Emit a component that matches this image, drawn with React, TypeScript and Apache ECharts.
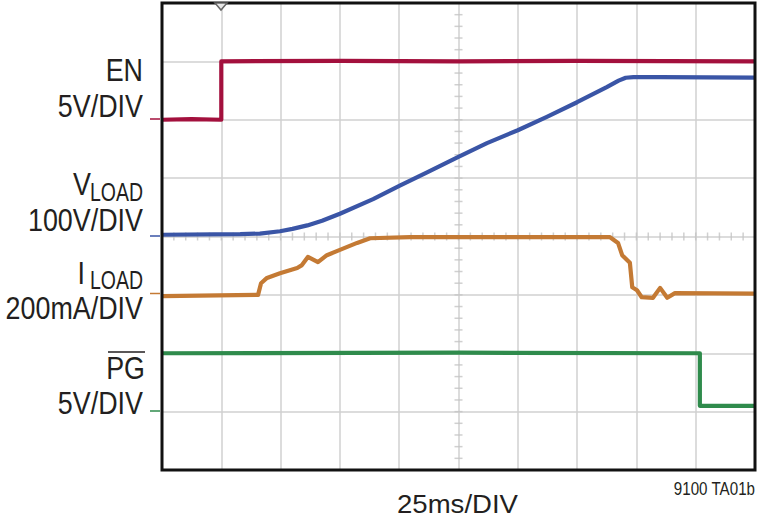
import React, { useEffect, useRef } from "react";
import * as echarts from "echarts";

// Time axis in divisions (25ms/DIV), vertical axis in divisions (0 = bottom)
const xDivisions = [0, 10];
const yDivisions = [0, 8];

const enTrace: [number, number][] = [
  [0, 6.0], [0.5, 6.01], [1.0, 6.0], [1.0, 7.0], [3.0, 7.01], [5.0, 7.0], [7.0, 7.01], [10, 7.0],
];

const vloadTrace: [number, number][] = [
  [0, 4.03], [1.32, 4.04], [1.65, 4.05], [1.99, 4.09], [2.2, 4.13], [2.45, 4.19], [2.7, 4.27],
  [3.0, 4.39], [3.56, 4.64], [4.01, 4.87], [4.47, 5.1], [4.99, 5.36], [5.48, 5.6], [6.0, 5.82],
  [6.49, 6.05], [7.0, 6.3], [7.5, 6.56], [7.7, 6.67], [7.82, 6.72], [7.95, 6.73], [8.4, 6.73], [10, 6.72],
];

const iloadTrace: [number, number][] = [
  [0, 2.98], [1.62, 3.0], [1.67, 3.2], [1.77, 3.29], [1.99, 3.37], [2.28, 3.46],
  [2.36, 3.51], [2.46, 3.65], [2.63, 3.56], [2.78, 3.68], [3.0, 3.77], [3.29, 3.89],
  [3.51, 3.97], [4.18, 3.99], [5.7, 3.99], [7.55, 3.99], [7.69, 3.89], [7.76, 3.68],
  [7.89, 3.55], [7.93, 3.13], [8.01, 3.08], [8.09, 2.96], [8.28, 2.95], [8.4, 3.12],
  [8.52, 2.95], [8.65, 3.03], [10, 3.02],
];

const pgTrace: [number, number][] = [
  [0, 2.0], [5.0, 2.01], [9.07, 2.0], [9.07, 1.1], [10, 1.1],
];

const channelLabels = ["EN", "5V/DIV", "100V/DIV", "200mA/DIV", "PG", "5V/DIV"];
const timeLabel = "25ms/DIV";
const figureId = "9100 TA01b";

const COLORS = {
  en: "#a3103d",
  vload: "#3a55a6",
  iload: "#c47a34",
  pg: "#2f8b4c",
  text: "#231f20",
  grid: "#d0d0d0",
  tick: "#c4c4c4",
};

export default function App() {
  const ref = useRef<HTMLDivElement>(null);

  useEffect(() => {
    document.body.style.margin = "0";
    if (!ref.current) return;
    const chart = echarts.init(ref.current, undefined, { renderer: "svg" });

    const hTicks: [number, number][] = [];
    for (let k = 0; k <= 50; k++) hTicks.push([k * 0.2, 4]);
    const vTicks: [number, number][] = [];
    for (let k = 0; k <= 40; k++) vTicks.push([5, k * 0.2]);

    const F = "'Liberation Sans', Arial, sans-serif";
    const mainFont = `32px ${F}`;
    const subFont = `25px ${F}`;
    const SX = 0.84;
    const RX = 143;

    const label = (text: string, x: number, y: number, font: string, sx: number, align = "right") => ({
      type: "text",
      x,
      y,
      scaleX: sx,
      style: { text, fill: COLORS.text, font, align, verticalAlign: "middle" },
      silent: true,
    });

    const marker = (y: number, color: string) => ({
      type: "line",
      shape: { x1: 150, y1: y, x2: 160, y2: y },
      style: { stroke: color, lineWidth: 1.5 },
      silent: true,
    });

    const line = (data: [number, number][], color: string) => ({
      type: "line",
      data,
      showSymbol: false,
      symbol: "none",
      lineStyle: { color, width: 4.2, join: "round" },
      itemStyle: { color },
      z: 5,
      silent: true,
    });

    chart.setOption({
      animation: false,
      grid: {
        left: 162,
        top: 3,
        width: 593,
        height: 467,
        show: true,
        borderColor: "#111",
        borderWidth: 3,
        backgroundColor: "transparent",
        z: 10,
      },
      xAxis: {
        type: "value",
        min: xDivisions[0],
        max: xDivisions[1],
        interval: 1,
        axisLine: { show: false },
        axisTick: { show: false },
        axisLabel: { show: false },
        splitLine: { show: true, lineStyle: { color: COLORS.grid, width: 1.5 } },
      },
      yAxis: {
        type: "value",
        min: yDivisions[0],
        max: yDivisions[1],
        interval: 1,
        axisLine: { show: false },
        axisTick: { show: false },
        axisLabel: { show: false },
        splitLine: { show: true, lineStyle: { color: COLORS.grid, width: 1.5 } },
      },
      series: [
        {
          type: "scatter",
          data: hTicks,
          symbol: "rect",
          symbolSize: [1.5, 8],
          itemStyle: { color: COLORS.tick },
          silent: true,
          z: 1,
        },
        {
          type: "scatter",
          data: vTicks,
          symbol: "rect",
          symbolSize: [8, 1.5],
          itemStyle: { color: COLORS.tick },
          silent: true,
          z: 1,
        },
        line(enTrace, COLORS.en),
        line(vloadTrace, COLORS.vload),
        line(iloadTrace, COLORS.iload),
        line(pgTrace, COLORS.pg),
      ],
      graphic: [
        label(channelLabels[0], RX, 70, mainFont, SX),
        label(channelLabels[1], RX, 106, mainFont, SX),
        label("V", 91, 184, mainFont, SX),
        label("LOAD", RX, 193, subFont, 0.78),
        label(channelLabels[2], RX, 220, mainFont, SX),
        label("I", 85, 272.5, mainFont, SX),
        label("LOAD", RX, 281, subFont, 0.78),
        label(channelLabels[3], RX, 308, mainFont, SX),
        label(channelLabels[4], 145, 367.5, mainFont, SX),
        {
          type: "line",
          shape: { x1: 108, y1: 352, x2: 145, y2: 352 },
          style: { stroke: COLORS.text, lineWidth: 1.5 },
          silent: true,
        },
        label(channelLabels[5], RX, 403, mainFont, SX),
        label(timeLabel, 457.5, 504, `26px ${F}`, 1.06, "center"),
        label(figureId, 755, 488.5, `18.5px ${F}`, 0.82),
        marker(119, COLORS.en),
        marker(236, COLORS.vload),
        marker(293.5, COLORS.iload),
        marker(411, COLORS.pg),
        {
          type: "polygon",
          shape: { points: [[215, 3], [227, 3], [221, 10]] },
          style: { fill: "#e8e8e8", stroke: "#666", lineWidth: 1.5 },
          silent: true,
          z: 20,
        },
      ],
    });

    return () => chart.dispose();
  }, []);

  return <div ref={ref} style={{ width: 760, height: 526 }} />;
}
